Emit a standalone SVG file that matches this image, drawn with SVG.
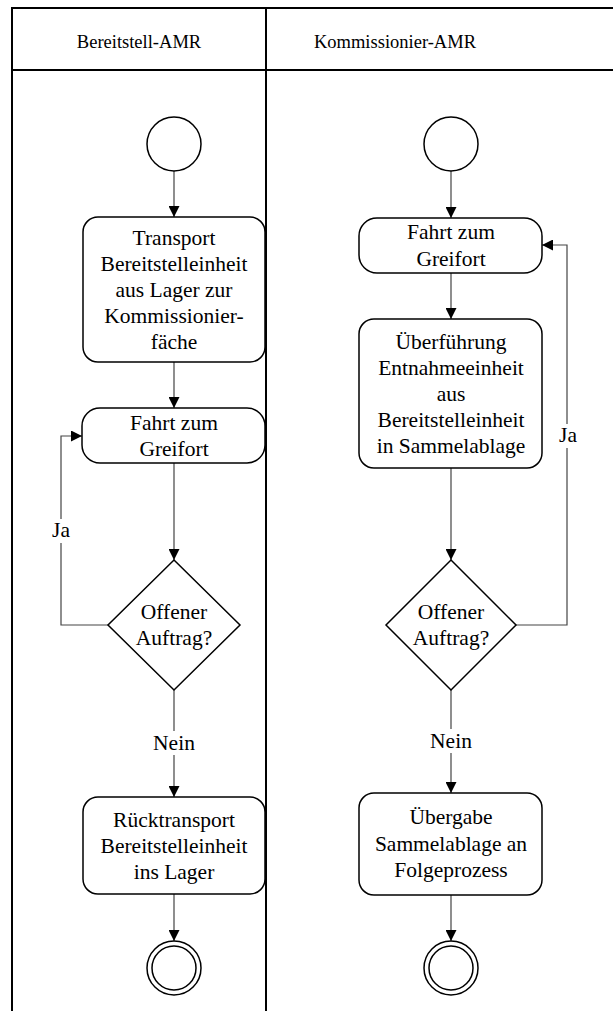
<svg xmlns="http://www.w3.org/2000/svg" width="613" height="1011" viewBox="0 0 613 1011">
<style>
text{font-family:'Liberation Serif','Times New Roman',serif;fill:#000;text-anchor:middle}
.t{font-size:21.5px}
.h{font-size:18.5px}
.n{fill:#fff;stroke:#000;stroke-width:1.5}
.c{fill:none;stroke:#444;stroke-width:1.2}
.lane{fill:none;stroke:#000;stroke-width:2}
.bg{fill:#fff}
</style>
<defs>
<marker id="a" viewBox="0 0 10 10" refX="10" refY="5" markerWidth="11" markerHeight="11" markerUnits="userSpaceOnUse" orient="auto">
<path d="M0,0 L10,5 L0,10 Z" fill="#000"/>
</marker>
</defs>
<rect width="613" height="1011" fill="#fff"/>
<g id="lanes">
<path class="lane" d="M12,1011 V8 H614 M12,70 H614 M266,8 V1011"/>
<text class="h" x="139" y="48">Bereitstell-AMR</text>
<text class="h" x="395" y="48">Kommissionier-AMR</text>
</g>
<g id="connectors">
<path class="c" d="M174,171 V217" marker-end="url(#a)"/>
<path class="c" d="M174,362 V408" marker-end="url(#a)"/>
<path class="c" d="M174,463 V560" marker-end="url(#a)"/>
<path class="c" d="M108,625 H61 V436 H82" marker-end="url(#a)"/>
<rect class="bg" x="50" y="519" width="22" height="24"/>
<text class="t" x="61" y="537">Ja</text>
<path class="c" d="M174,690 V797" marker-end="url(#a)"/>
<rect class="bg" x="150" y="731" width="48" height="24"/>
<text class="t" x="174" y="750">Nein</text>
<path class="c" d="M174,894 V941" marker-end="url(#a)"/>
<path class="c" d="M451,171 V218" marker-end="url(#a)"/>
<path class="c" d="M451,273 V319" marker-end="url(#a)"/>
<path class="c" d="M451,468 V560" marker-end="url(#a)"/>
<path class="c" d="M516,625 H567 V245 H542" marker-end="url(#a)"/>
<rect class="bg" x="556" y="424" width="22" height="24"/>
<text class="t" x="568" y="442">Ja</text>
<path class="c" d="M451,690 V793" marker-end="url(#a)"/>
<rect class="bg" x="427" y="729" width="48" height="24"/>
<text class="t" x="451" y="748">Nein</text>
<path class="c" d="M451,895 V941" marker-end="url(#a)"/>
</g>
<g id="start1"><circle class="n" cx="174" cy="144" r="27"/></g>
<g id="transport">
<rect class="n" x="83" y="217" width="182" height="145" rx="15"/>
<text class="t" x="174" y="245">Transport</text>
<text class="t" x="174" y="271">Bereitstelleinheit</text>
<text class="t" x="174" y="297">aus Lager zur</text>
<text class="t" x="174" y="323">Kommissionier-</text>
<text class="t" x="174" y="349">fäche</text>
</g>
<g id="fahrt1">
<rect class="n" x="82" y="408" width="183" height="55" rx="18"/>
<text class="t" x="174" y="430">Fahrt zum</text>
<text class="t" x="174" y="456">Greifort</text>
</g>
<g id="dec1">
<polygon class="n" points="174,560 240,625 174,690 108,625"/>
<text class="t" x="174" y="619">Offener</text>
<text class="t" x="174" y="645">Auftrag?</text>
</g>
<g id="rueck">
<rect class="n" x="83" y="797" width="182" height="97" rx="15"/>
<text class="t" x="174" y="827">Rücktransport</text>
<text class="t" x="174" y="853">Bereitstelleinheit</text>
<text class="t" x="174" y="879">ins Lager</text>
</g>
<g id="end1"><circle class="n" cx="174" cy="968" r="27"/><circle class="n" cx="174" cy="968" r="22"/></g>
<g id="start2"><circle class="n" cx="451" cy="144" r="27"/></g>
<g id="fahrt2">
<rect class="n" x="359" y="218" width="183" height="55" rx="18"/>
<text class="t" x="451" y="239">Fahrt zum</text>
<text class="t" x="451" y="266">Greifort</text>
</g>
<g id="ueberf">
<rect class="n" x="359" y="319" width="183" height="149" rx="15"/>
<text class="t" x="451" y="349">Überführung</text>
<text class="t" x="451" y="375">Entnahmeeinheit</text>
<text class="t" x="451" y="401">aus</text>
<text class="t" x="451" y="427">Bereitstelleinheit</text>
<text class="t" x="451" y="453">in Sammelablage</text>
</g>
<g id="dec2">
<polygon class="n" points="451,560 516,625 451,690 386,625"/>
<text class="t" x="451" y="619">Offener</text>
<text class="t" x="451" y="645">Auftrag?</text>
</g>
<g id="uebergabe">
<rect class="n" x="359" y="793" width="183" height="102" rx="15"/>
<text class="t" x="451" y="824">Übergabe</text>
<text class="t" x="451" y="851">Sammelablage an</text>
<text class="t" x="451" y="877">Folgeprozess</text>
</g>
<g id="end2"><circle class="n" cx="451" cy="968" r="27"/><circle class="n" cx="451" cy="968" r="22"/></g>
</svg>
